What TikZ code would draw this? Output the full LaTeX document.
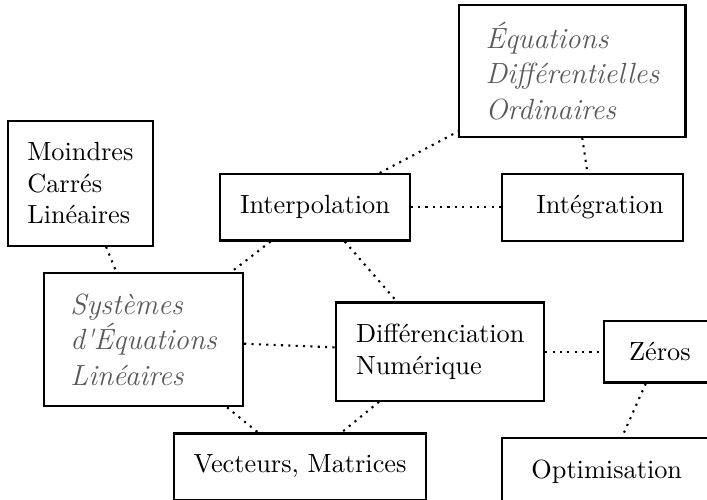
\documentclass[tikz,border=0pt]{standalone}
\begin{document}
\begin{tikzpicture}
      \clip (0,0) rectangle (9.45,6.67);

      \begin{scope}[every node/.style={draw,thick,align=left,inner xsep=7.5pt,inner ysep=8.2pt}]
        \node (1) at (1.075,4.22) {Moindres\\Carrés\\Linéaires};
        \node (2) at (4.21,3.90)  {Interpolation};
        \node[text=black!65,font=\fontsize{11.1}{13.6}\selectfont\itshape,inner xsep=10pt,inner ysep=6.3pt] (3) at (7.65,5.72) {Équations\\Différentielles\\Ordinaires};
        \node[text width=1.9cm,align=right] (4) at (7.92,3.90) {Intégration};
        \node[text=black!65,font=\fontsize{11.1}{13.6}\selectfont\itshape,inner xsep=10pt,inner ysep=7.8pt] (5) at (1.92,2.13) {Systèmes\\d\textquotesingle Équations\\Linéaires};
        \node (6) at (5.885,1.97) {Différenciation\\Numérique};
        \node[minimum width=1.5cm] (7) at (8.82,1.97) {Zéros};
        \node (8) at (4.01,0.434) {Vecteurs, Matrices};
        \node[minimum width=2.81cm,minimum height=24.5pt,anchor=north] (9) at (8.11,0.828) {Optimisation};
      \end{scope}

      \begin{scope}[every edge/.style={draw,thick,dotted}]
        \path (1) edge (5);
        \path (2) edge (5);
        \path (2) edge (3);
        \path (2) edge (4);
        \path (3) edge (4);
        \path (2) edge (6);
        \path (5) edge (6);
        \path (5) edge (8);
        \path (6) edge (8);
        \path (6) edge (7);
        \path (7) edge (9);
      \end{scope}

    \end{tikzpicture}
\end{document}
